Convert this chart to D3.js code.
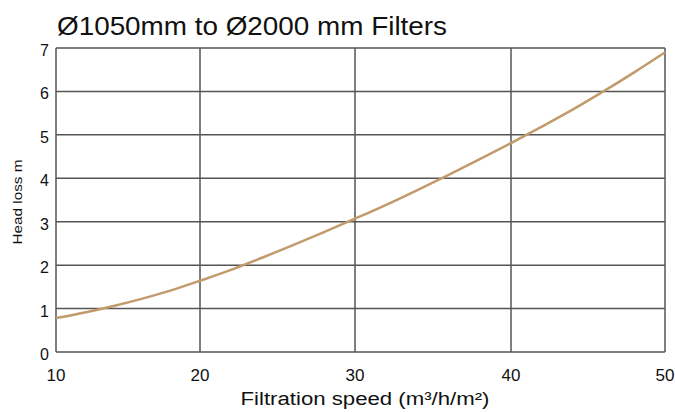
<!DOCTYPE html>
<html>
<head>
<meta charset="utf-8">
<script src="https://cdn.jsdelivr.net/npm/d3@7"></script>
<style>
  body { margin: 0; background: #fff; }
  text { font-family: "Liberation Sans", Arial, sans-serif; fill: #111; }
</style>
</head>
<body>
<div id="chart"></div>
<script>
// Data
const speeds = [10, 12, 14, 16, 18, 20, 22, 24, 26, 28, 30, 32, 34, 36, 38, 40, 42, 44, 46, 48, 50];
const headLoss = [0.78, 0.91, 1.06, 1.23, 1.42, 1.64, 1.89, 2.17, 2.46, 2.76, 3.07, 3.39, 3.73, 4.08, 4.44, 4.81, 5.19, 5.58, 6.0, 6.44, 6.9];
const xTicks = [10, 20, 30, 40, 50];
const yTicks = [0, 1, 2, 3, 4, 5, 6, 7];

const dims = { width: 675, height: 412, top: 48, bottom: 352 };

const svg = d3.select("#chart")
  .append("svg")
  .attr("width", dims.width)
  .attr("height", dims.height);

// the printed grid is not evenly spaced, so map each tick to where it sits
const xScale = d3.scaleLinear().domain(xTicks).range([56, 200, 355, 511, 665]);
const yScale = d3.scaleLinear().domain([0, 7]).range([dims.bottom, dims.top]);

// Grid
const grid = svg.append("g").attr("stroke", "#555").attr("stroke-width", 1.5);
grid.selectAll(".vx")
  .data(xTicks)
  .join("line")
  .attr("x1", d => xScale(d)).attr("x2", d => xScale(d))
  .attr("y1", dims.top).attr("y2", dims.bottom);
grid.selectAll(".hy")
  .data(yTicks)
  .join("line")
  .attr("x1", xScale(10)).attr("x2", xScale(50))
  .attr("y1", d => yScale(d)).attr("y2", d => yScale(d));

// Tick labels
svg.append("g").selectAll("text")
  .data(xTicks)
  .join("text")
  .attr("x", d => xScale(d))
  .attr("y", 381)
  .attr("text-anchor", "middle")
  .attr("font-size", 17)
  .text(d => d);

svg.append("g").selectAll("text")
  .data(yTicks)
  .join("text")
  .attr("x", 49)
  .attr("y", d => yScale(d) + 8)
  .attr("text-anchor", "end")
  .attr("font-size", 16)
  .text(d => d);

// Curve
const line = d3.line()
  .x((d, i) => xScale(speeds[i]))
  .y(d => yScale(d))
  .curve(d3.curveMonotoneX);

svg.append("path")
  .datum(headLoss)
  .attr("d", line)
  .attr("fill", "none")
  .attr("stroke", "#c29b6c")
  .attr("stroke-width", 2.5);

// Titles
svg.append("text")
  .attr("x", 57)
  .attr("y", 35)
  .attr("font-size", 25)
  .attr("textLength", 390)
  .attr("lengthAdjust", "spacingAndGlyphs")
  .text("Ø1050mm to Ø2000 mm Filters");

svg.append("text")
  .attr("transform", `translate(22, 202) rotate(-90)`)
  .attr("text-anchor", "middle")
  .attr("font-size", 13)
  .attr("textLength", 85)
  .attr("lengthAdjust", "spacingAndGlyphs")
  .text("Head loss m");

svg.append("text")
  .attr("x", 365)
  .attr("y", 405)
  .attr("text-anchor", "middle")
  .attr("font-size", 18)
  .attr("textLength", 249)
  .attr("lengthAdjust", "spacingAndGlyphs")
  .text("Filtration speed (m³/h/m²)");
</script>
</body>
</html>
